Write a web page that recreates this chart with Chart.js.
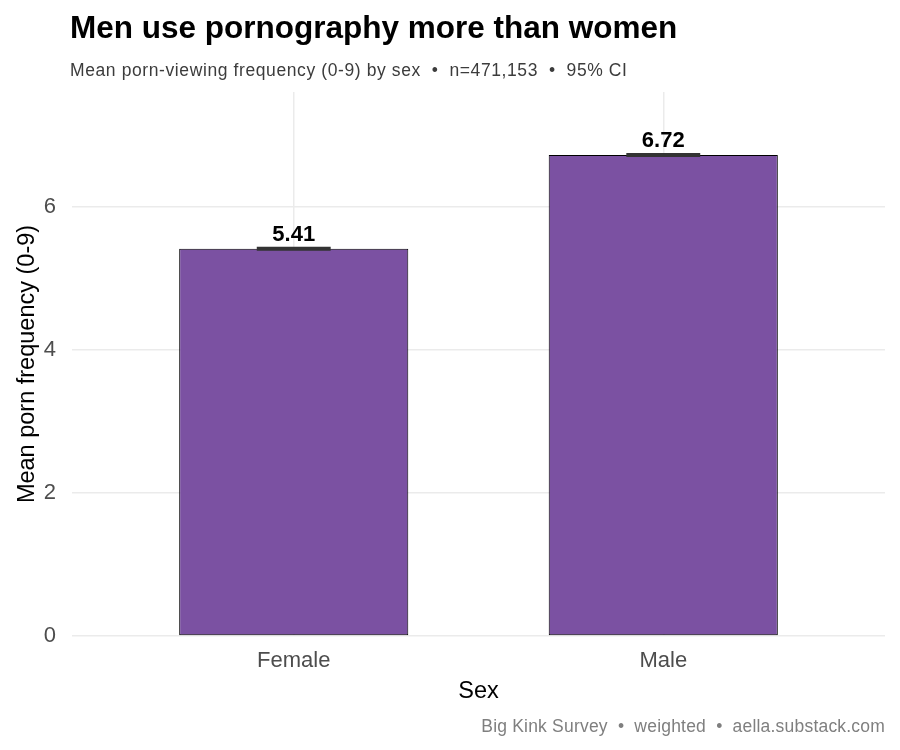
<!DOCTYPE html>
<html>
<head>
<meta charset="utf-8">
<script src="https://cdn.jsdelivr.net/npm/chart.js@4.4.1/dist/chart.umd.min.js"></script>
<style>
  html, body { margin: 0; padding: 0; background: #fff; }
  #wrap { width: 900px; height: 750px; }
</style>
</head>
<body>
<div id="wrap"><canvas id="chart"></canvas></div>
<script>
// Data
const categories = ["Female", "Male"];
const means = [5.41, 6.72];
const ciLow = [5.40, 6.71];
const ciHigh = [5.42, 6.73];
const yTicks = [0, 2, 4, 6];

const titleText = "Men use pornography more than women";
const subtitleText = "Mean porn-viewing frequency (0-9) by sex  \u2022  n=471,153  \u2022  95% CI";
const captionText = "Big Kink Survey  \u2022  weighted  \u2022  aella.substack.com";

const FONT = "'Liberation Sans', Arial, sans-serif";
const gridColor = "#EBEBEB";

// Title, subtitle, caption, error bars and value labels
const decorations = {
    id: "decorations",
    afterDatasetsDraw(chart) {
        const { ctx, scales } = chart;
        const x = scales.x, y = scales.y;
        ctx.save();
        // error bars
        ctx.strokeStyle = "#333333";
        ctx.lineWidth = 2.6;
        means.forEach((m, i) => {
            const x0 = x.getPixelForValue(i + 1 - 0.1);
            const x1 = x.getPixelForValue(i + 1 + 0.1);
            const xc = x.getPixelForValue(i + 1);
            const yl = y.getPixelForValue(ciLow[i]);
            const yh = y.getPixelForValue(ciHigh[i]);
            ctx.beginPath();
            ctx.moveTo(x0, yl); ctx.lineTo(x1, yl);
            ctx.moveTo(x0, yh); ctx.lineTo(x1, yh);
            ctx.moveTo(xc, yl); ctx.lineTo(xc, yh);
            ctx.stroke();
        });
        // value labels
        ctx.fillStyle = "#000";
        ctx.font = "bold 22px " + FONT;
        ctx.textAlign = "center";
        ctx.textBaseline = "alphabetic";
        means.forEach((m, i) => {
            ctx.fillText(m.toFixed(2), x.getPixelForValue(i + 1), y.getPixelForValue(ciHigh[i]) - 7);
        });
        ctx.restore();
    },
    afterDraw(chart) {
        const { ctx } = chart;
        ctx.save();
        ctx.textAlign = "left";
        ctx.textBaseline = "alphabetic";
        ctx.fillStyle = "#000";
        ctx.font = "bold 31.5px " + FONT;
        ctx.fillText(titleText, 70, 38);
        ctx.fillStyle = "#3C3C3C";
        ctx.font = "17.5px " + FONT;
        ctx.letterSpacing = "0.6px";
        ctx.fillText(subtitleText, 70, 76);
        ctx.fillStyle = "#7F7F7F";
        ctx.letterSpacing = "0.2px";
        ctx.textAlign = "right";
        ctx.fillText(captionText, 885, 732);
        ctx.restore();
    }
};

new Chart(document.getElementById("chart"), {
    type: "bar",
    data: {
        datasets: [
            {
                data: means.map((m, i) => ({ x: i + 1, y: m })),
                backgroundColor: "#7B51A2",
                borderColor: "#000000",
                borderWidth: 1,
                borderSkipped: false,
                barPercentage: 0.62,
                categoryPercentage: 1,
            },
        ],
    },
    options: {
        responsive: true,
        maintainAspectRatio: false,
        animation: false,
        layout: { padding: { top: 92, right: 15, bottom: 44, left: 0 } },
        plugins: {
            legend: { display: false },
            tooltip: { enabled: false },
        },
        scales: {
            x: {
                type: "linear",
                min: 0.4,
                max: 2.6,
                offset: false,
                afterBuildTicks: (s) => { s.ticks = categories.map((c, i) => ({ value: i + 1 })); },
                afterFit: (s) => { s.height = 70; },
                grid: { color: gridColor, lineWidth: 1.5, drawTicks: false, offset: false },
                border: { display: false },
                ticks: {
                    color: "#4D4D4D",
                    font: { family: FONT, size: 22 },
                    padding: 12,
                    callback: (v) => categories[Math.round(v) - 1],
                },
                title: {
                    display: true,
                    text: "Sex",
                    color: "#000",
                    font: { family: FONT, size: 23.5 },
                    padding: { top: 3, bottom: 0 },
                },
            },
            y: {
                min: 0,
                max: 7.6,
                afterBuildTicks: (s) => { s.ticks = yTicks.map((v) => ({ value: v })); },
                afterFit: (s) => { s.width = 72; },
                grid: { color: gridColor, lineWidth: 1.5, drawTicks: false },
                border: { display: false },
                ticks: {
                    color: "#4D4D4D",
                    font: { family: FONT, size: 22 },
                    padding: 16,
                },
                title: {
                    display: true,
                    text: "Mean porn frequency (0-9)",
                    color: "#000",
                    font: { family: FONT, size: 23.5 },
                    padding: { top: 13, bottom: 0 },
                },
            },
        },
    },
    plugins: [decorations],
});
</script>
</body>
</html>
